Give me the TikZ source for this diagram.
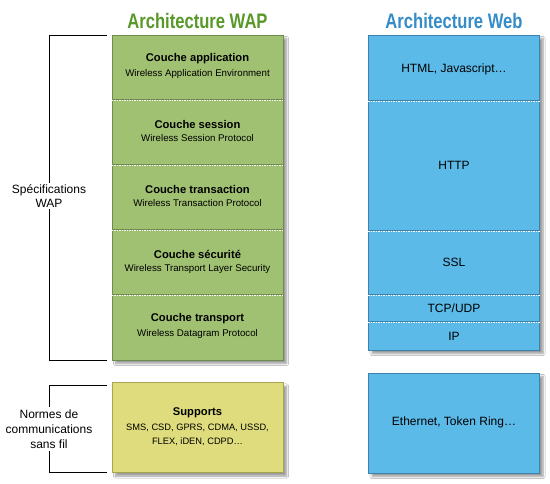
\documentclass[tikz,border=0pt]{standalone}
\usepackage{fontspec}
\setmainfont{Liberation Sans}
\newfontfamily\titlefont[FakeStretch=0.79]{Liberation Sans}
\usetikzlibrary{shadows.blur}
\definecolor{wapgreen}{RGB}{160,192,114}
\definecolor{wapyellow}{RGB}{222,220,124}
\definecolor{webblue}{RGB}{92,186,232}
\definecolor{titlegreen}{RGB}{88,152,40}
\definecolor{titleblue}{RGB}{52,140,200}
\definecolor{greenedge}{RGB}{110,140,80}
\definecolor{blueedge}{RGB}{60,130,175}
\definecolor{yellowedge}{RGB}{170,165,80}
\begin{document}
\begin{tikzpicture}[x=1pt,y=-1pt,
  colbg/.style={rectangle, inner sep=0pt, draw=#1, line width=0.6pt,
    blur shadow={shadow xshift=3.5pt, shadow yshift=-3.5pt, shadow blur steps=6, shadow opacity=40}},
  layer/.style={rectangle, inner sep=0pt, minimum width=171pt, align=center},
  ttl/.style={font=\titlefont\fontsize{21}{24}\selectfont\bfseries},
  lt/.style={font=\fontsize{11.2}{13}\selectfont\bfseries},
  ls/.style={font=\fontsize{9.7}{11}\selectfont},
  wl/.style={font=\fontsize{12}{14}\selectfont},
  sepdark/.style={draw=#1, line width=0.7pt},
  sepwhite/.style={draw=white, line width=0.7pt, dash pattern=on 1.5pt off 1pt},
  brk/.style={draw=black, line width=0.6pt},
  side/.style={align=center, inner sep=2pt}
]
\useasboundingbox[fill=white] (0,0) rectangle (550,484);

% titles
\node[ttl, text=titlegreen] (twap) at (197.5,20.5) {Architecture WAP};
\node[ttl, text=titleblue] (tweb) at (454,20.5) {Architecture Web};

% WAP column
\node[colbg=greenedge, fill=wapgreen, minimum width=171pt, minimum height=325pt] (wapcol) at (197.5,197.5) {};
\node[layer, minimum height=64pt] (app) at (197.5,67) {};
\node[lt] (appt) at (197.5,59) {Couche application};
\node[ls] (apps) at (197.5,73.5) {Wireless Application Environment};
\node[layer, minimum height=65pt] (ses) at (197.5,131.5) {};
\node[lt] (sest) at (197.5,124) {Couche session};
\node[ls] (sess) at (197.5,138.5) {Wireless Session Protocol};
\node[layer, minimum height=65pt] (tra) at (197.5,196.5) {};
\node[lt] (trat) at (197.5,189) {Couche transaction};
\node[ls] (tras) at (197.5,203.5) {Wireless Transaction Protocol};
\node[layer, minimum height=65pt] (sec) at (197.5,261.5) {};
\node[lt] (sect) at (197.5,254) {Couche sécurité};
\node[ls] (secs) at (197.5,268.5) {Wireless Transport Layer Security};
\node[layer, minimum height=65pt] (trp) at (197.5,327) {};
\node[lt] (trpt) at (197.5,319) {Couche transport};
\node[ls] (trps) at (197.5,333.5) {Wireless Datagram Protocol};
\foreach \n in {app,ses,tra,sec}{
  \draw[sepdark=greenedge] (\n.south west) -- (\n.south east);
  \draw[sepwhite] ([yshift=-1.3pt]\n.south west) -- ([yshift=-1.3pt]\n.south east);
}

% Supports
\node[colbg=yellowedge, fill=wapyellow, minimum width=171pt, minimum height=90pt] (sup) at (197.5,427.5) {};
\node[lt] (supt) at (197.5,413) {Supports};
\node[align=center, font=\fontsize{9.3}{14}\selectfont] (sups) at (197.5,435) {SMS, CSD, GPRS, CDMA, USSD,\\FLEX, iDEN, CDPD\ldots};

% Web column
\node[colbg=blueedge, fill=webblue, minimum width=171pt, minimum height=315pt] (webcol) at (454,192.5) {};
\node[layer, minimum height=65pt] (html) at (454,67.5) {};
\node[wl] (htmlt) at (454,69) {HTML, Javascript\ldots};
\node[layer, minimum height=130pt] (http) at (454,165) {};
\node[wl] (httpt) at (454,165) {HTTP};
\node[layer, minimum height=64pt] (ssl) at (454,262) {};
\node[wl] (sslt) at (454,262) {SSL};
\node[layer, minimum height=27pt] (tcp) at (454,307.5) {};
\node[wl] (tcpt) at (454,308) {TCP/UDP};
\node[layer, minimum height=29pt] (ip) at (454,335.5) {};
\node[wl] (ipt) at (454,336) {IP};
\foreach \n in {html,http,ssl,tcp}{
  \draw[sepdark=blueedge] (\n.south west) -- (\n.south east);
  \draw[sepwhite] ([yshift=-1.3pt]\n.south west) -- ([yshift=-1.3pt]\n.south east);
}
\node[colbg=blueedge, fill=webblue, minimum width=171pt, minimum height=100pt] (eth) at (454,423) {};
\node[wl] (etht) at (454,422) {Ethernet, Token Ring\ldots};

% brackets
\node[side, font=\fontsize{12}{13.5}\selectfont] (spec) at (49,196) {Spécifications\\WAP};
\coordinate (s1) at (107,35);
\coordinate (s2) at (107,360);
\draw[brk] (s1) -| (spec.north);
\draw[brk] (s2) -| (spec.south);
\node[side, font=\fontsize{12}{15}\selectfont] (norm) at (49,429) {Normes de\\communications\\sans fil};
\coordinate (n1) at (107,385);
\coordinate (n2) at (107,472);
\draw[brk] (n1) -| (norm.north);
\draw[brk] (n2) -| (norm.south);
\end{tikzpicture}
\end{document}
